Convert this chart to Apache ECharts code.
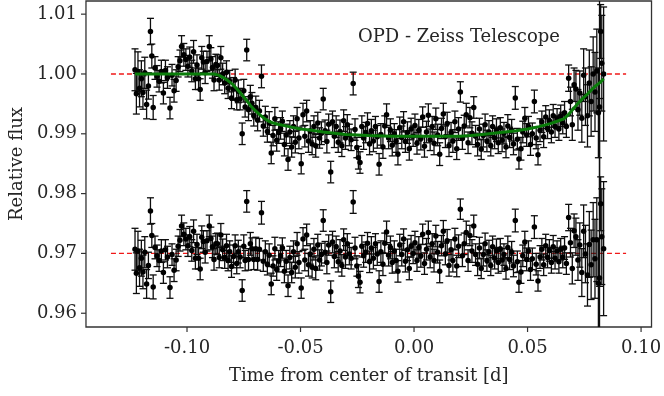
<!DOCTYPE html>
<html>
<head>
<meta charset="utf-8">
<script src="https://cdn.jsdelivr.net/npm/echarts@6/dist/echarts.min.js"></script>
<style>
  html, body { margin: 0; padding: 0; background: #fff; }
  #chart { width: 664px; height: 396px; }
</style>
</head>
<body>
<div id="chart"></div>
<script>
// observation times (days from mid-transit)
const times = [
  -0.1229, -0.1223, -0.1216, -0.1209, -0.1201, -0.1194, -0.1186, -0.1178, -0.1170, -0.1161,
  -0.1155, -0.1149, -0.1141, -0.1132, -0.1123, -0.1113, -0.1104, -0.1095, -0.1086, -0.1075,
  -0.1066, -0.1057, -0.1048, -0.1039, -0.1031, -0.1024, -0.1014, -0.1005, -0.0996, -0.0988,
  -0.0979, -0.0971, -0.0963, -0.0956, -0.0949, -0.0942, -0.0935, -0.0928, -0.0920, -0.0912,
  -0.0902, -0.0895, -0.0888, -0.0881, -0.0873,
  -0.0866, -0.0858, -0.0851, -0.0843, -0.0834, -0.0826, -0.0819, -0.0812, -0.0804, -0.0795,
  -0.0788, -0.0781, -0.0774, -0.0766, -0.0757, -0.0750, -0.0744, -0.0737, -0.0729, -0.0721,
  -0.0714, -0.0706, -0.0697, -0.0689, -0.0681, -0.0672, -0.0664, -0.0655, -0.0646, -0.0638,
  -0.0629, -0.0621, -0.0613, -0.0605, -0.0596,
  -0.0588, -0.0580, -0.0571, -0.0563, -0.0555, -0.0547, -0.0539, -0.0531, -0.0523, -0.0515,
  -0.0507, -0.0497, -0.0489, -0.0481, -0.0473, -0.0465, -0.0457, -0.0449, -0.0441, -0.0433,
  -0.0424, -0.0416, -0.0408, -0.0400, -0.0392, -0.0384, -0.0376, -0.0367, -0.0359, -0.0351,
  -0.0343, -0.0334, -0.0326, -0.0318, -0.0310, -0.0302, -0.0294, -0.0285, -0.0277, -0.0268,
  -0.0260, -0.0252, -0.0245, -0.0238, -0.0230, -0.0222, -0.0213, -0.0205, -0.0196, -0.0188,
  -0.0179, -0.0170, -0.0162, -0.0154, -0.0146, -0.0137, -0.0129, -0.0121, -0.0112, -0.0104,
  -0.0096, -0.0087, -0.0079, -0.0071, -0.0063, -0.0054, -0.0046, -0.0038, -0.0029, -0.0021,
  -0.0013, -0.0004, 0.0004, 0.0013, 0.0021, 0.0030, 0.0038, 0.0046, 0.0055, 0.0063,
  0.0071, 0.0080, 0.0088, 0.0096, 0.0104, 0.0113, 0.0121, 0.0129, 0.0138, 0.0146,
  0.0154, 0.0163, 0.0171, 0.0180, 0.0188, 0.0196, 0.0204, 0.0213, 0.0221, 0.0230,
  0.0238, 0.0246, 0.0255, 0.0263, 0.0271, 0.0280,
  0.0288, 0.0296, 0.0305, 0.0313, 0.0321, 0.0330, 0.0338, 0.0346, 0.0355, 0.0363,
  0.0371, 0.0380, 0.0388, 0.0396, 0.0405, 0.0413, 0.0421, 0.0430, 0.0438, 0.0446,
  0.0455, 0.0462, 0.0471, 0.0479, 0.0488, 0.0496, 0.0504, 0.0513, 0.0521, 0.0530,
  0.0538, 0.0546, 0.0555, 0.0563, 0.0571, 0.0580, 0.0588, 0.0596, 0.0605, 0.0613,
  0.0621, 0.0630, 0.0638, 0.0646, 0.0655, 0.0663, 0.0671, 0.0681, 0.0689, 0.0697,
  0.0705, 0.0713, 0.0722, 0.0730, 0.0739, 0.0747, 0.0755, 0.0764, 0.0772, 0.0780,
  0.0789, 0.0797, 0.0805, 0.0812, 0.0817, 0.0822, 0.0827, 0.0835
];

// relative flux (upper light curve)
const flux = [
  1.0007, 0.9967, 1.0004, 0.9976, 0.9992, 0.9969, 1.0002, 0.9949, 0.9980, 1.0071,
  1.0030, 0.9944, 1.0010, 0.9996, 0.9988, 1.0004, 0.9968, 1.0006, 0.9994, 0.9943,
  0.9998, 0.9972, 0.9989, 1.0012, 1.0022, 1.0046, 1.0032, 1.0024, 1.0013, 1.0028,
  1.0005, 1.0037, 0.9992, 1.0015, 0.9992, 0.9974, 1.0027, 1.0020, 1.0002, 1.0021,
  1.0046, 1.0025, 1.0011, 0.9990, 1.0016,
  1.0014, 0.9990, 1.0027, 1.0000, 0.9985, 1.0003, 0.9976, 0.9988, 0.9960, 0.9975,
  0.9990, 0.9957, 0.9971, 0.9958, 0.9900, 0.9972, 0.9945, 1.0040, 0.9940, 0.9962,
  0.9951, 0.9930, 0.9944, 0.9923, 0.9938, 0.9996, 0.9913, 0.9928, 0.9904, 0.9918,
  0.9868, 0.9897, 0.9925, 0.9889, 0.9902,
  0.9909, 0.9921, 0.9882, 0.9898, 0.9857, 0.9903, 0.9878, 0.9912, 0.9886, 0.9925,
  0.9893, 0.9850, 0.9932, 0.9896, 0.9938, 0.9888, 0.9905, 0.9883, 0.9912, 0.9880,
  0.9918, 0.9893, 0.9901, 0.9958, 0.9905, 0.9887, 0.9916, 0.9836, 0.9920, 0.9896,
  0.9912, 0.9886, 0.9904, 0.9880, 0.9922, 0.9893, 0.9915, 0.9898, 0.9890, 0.9984,
  0.9907, 0.9877, 0.9860, 0.9852, 0.9912, 0.9893, 0.9902, 0.9917, 0.9883, 0.9905,
  0.9888, 0.9912, 0.9895, 0.9849, 0.9899, 0.9878, 0.9913, 0.9932, 0.9893, 0.9906,
  0.9881, 0.9900, 0.9888, 0.9866, 0.9910, 0.9894, 0.9920, 0.9887, 0.9902, 0.9875,
  0.9908, 0.9896, 0.9914, 0.9884, 0.9906, 0.9892, 0.9928, 0.9879, 0.9903, 0.9931,
  0.9890, 0.9912, 0.9884, 0.9925, 0.9898, 0.9866, 0.9909, 0.9933, 0.9895, 0.9917,
  0.9880, 0.9902, 0.9888, 0.9920, 0.9875, 0.9908, 0.9970, 0.9892, 0.9913, 0.9932,
  0.9885, 0.9927, 0.9901, 0.9944, 0.9896, 0.9882,
  0.9908, 0.9874, 0.9897, 0.9915, 0.9888, 0.9903, 0.9880, 0.9912, 0.9893, 0.9906,
  0.9885, 0.9910, 0.9889, 0.9901, 0.9878, 0.9913, 0.9894, 0.9906, 0.9883, 0.9960,
  0.9891, 0.9858, 0.9875, 0.9903, 0.9926, 0.9898, 0.9912, 0.9882, 0.9900, 0.9954,
  0.9893, 0.9865, 0.9906, 0.9920, 0.9895, 0.9928, 0.9909, 0.9922, 0.9903, 0.9930,
  0.9912, 0.9925, 0.9908, 0.9930, 0.9918, 0.9935, 0.9912, 0.9993, 0.9954, 0.9915,
  0.9982, 0.9975, 0.9940, 0.9968, 0.9926, 0.9998, 0.9962, 0.9930, 0.9985, 0.9954,
  1.0000, 0.9970, 1.0005, 0.9935, 0.9945, 1.0071, 1.0018, 1.0000
];

// residuals, plotted with an offset at 0.97 (lower curve)
const resid = [
  0.9707, 0.9667, 0.9704, 0.9676, 0.9692, 0.9669, 0.9702, 0.9649, 0.9680, 0.9771,
  0.9730, 0.9644, 0.9710, 0.9696, 0.9688, 0.9704, 0.9668, 0.9706, 0.9694, 0.9643,
  0.9698, 0.9672, 0.9689, 0.9712, 0.9722, 0.9746, 0.9732, 0.9724, 0.9713, 0.9728,
  0.9705, 0.9737, 0.9692, 0.9715, 0.9692, 0.9674, 0.9727, 0.9720, 0.9702, 0.9721,
  0.9746, 0.9725, 0.9711, 0.9690, 0.9716,
  0.9716, 0.9693, 0.9731, 0.9706, 0.9693, 0.9713, 0.9688, 0.9703, 0.9678, 0.9695,
  0.9713, 0.9683, 0.9703, 0.9694, 0.9638, 0.9712, 0.9688, 0.9787, 0.9690, 0.9716,
  0.9708, 0.9690, 0.9708, 0.9690, 0.9707, 0.9768, 0.9687, 0.9703, 0.9682, 0.9697,
  0.9649, 0.9679, 0.9708, 0.9673, 0.9687,
  0.9696, 0.9709, 0.9670, 0.9687, 0.9646, 0.9693, 0.9668, 0.9703, 0.9677, 0.9716,
  0.9685, 0.9642, 0.9724, 0.9689, 0.9731, 0.9681, 0.9699, 0.9677, 0.9707, 0.9675,
  0.9714, 0.9689, 0.9698, 0.9755, 0.9702, 0.9685, 0.9714, 0.9636, 0.9719, 0.9695,
  0.9711, 0.9686, 0.9704, 0.9680, 0.9723, 0.9694, 0.9716, 0.9699, 0.9692, 0.9786,
  0.9709, 0.9679, 0.9662, 0.9652, 0.9712, 0.9696, 0.9702, 0.9717, 0.9686, 0.9709,
  0.9692, 0.9716, 0.9699, 0.9653, 0.9703, 0.9682, 0.9717, 0.9736, 0.9697, 0.9710,
  0.9685, 0.9704, 0.9688, 0.9670, 0.9714, 0.9698, 0.9724, 0.9687, 0.9706, 0.9675,
  0.9712, 0.9700, 0.9718, 0.9688, 0.9710, 0.9696, 0.9732, 0.9683, 0.9707, 0.9735,
  0.9694, 0.9716, 0.9688, 0.9729, 0.9702, 0.9670, 0.9713, 0.9737, 0.9699, 0.9721,
  0.9680, 0.9706, 0.9688, 0.9724, 0.9679, 0.9712, 0.9774, 0.9696, 0.9716, 0.9735,
  0.9688, 0.9730, 0.9704, 0.9746, 0.9698, 0.9682,
  0.9709, 0.9675, 0.9698, 0.9716, 0.9688, 0.9703, 0.9680, 0.9711, 0.9692, 0.9705,
  0.9685, 0.9708, 0.9689, 0.9698, 0.9675, 0.9710, 0.9690, 0.9702, 0.9679, 0.9755,
  0.9686, 0.9652, 0.9669, 0.9696, 0.9719, 0.9690, 0.9704, 0.9673, 0.9691, 0.9744,
  0.9682, 0.9654, 0.9694, 0.9707, 0.9681, 0.9713, 0.9693, 0.9705, 0.9685, 0.9711,
  0.9692, 0.9704, 0.9686, 0.9707, 0.9694, 0.9709, 0.9683, 0.9760, 0.9718, 0.9675,
  0.9738, 0.9728, 0.9689, 0.9714, 0.9668, 0.9737, 0.9699, 0.9664, 0.9715, 0.9681,
  0.9723, 0.9691, 0.9723, 0.9650, 0.9659, 0.9783, 0.9728, 0.9708
];

// 1-sigma uncertainties (same for both curves)
const errs = [
  0.0035, 0.0034, 0.0033, 0.0031, 0.0030, 0.0028, 0.0026, 0.0024, 0.0022, 0.0022,
  0.0020, 0.0020, 0.0019, 0.0018, 0.0018, 0.0019, 0.0018, 0.0017, 0.0018, 0.0018,
  0.0018, 0.0019, 0.0018, 0.0017, 0.0018, 0.0018, 0.0019, 0.0018, 0.0018, 0.0017,
  0.0018, 0.0019, 0.0018, 0.0017, 0.0018, 0.0018, 0.0019, 0.0018, 0.0018, 0.0017,
  0.0018, 0.0019, 0.0018, 0.0018, 0.0017,
  0.0018, 0.0017, 0.0019, 0.0018, 0.0018, 0.0019, 0.0017, 0.0018, 0.0018, 0.0019,
  0.0018, 0.0017, 0.0019, 0.0018, 0.0018, 0.0019, 0.0017, 0.0018, 0.0018, 0.0019,
  0.0018, 0.0017, 0.0019, 0.0018, 0.0018, 0.0019, 0.0017, 0.0018, 0.0018, 0.0019,
  0.0018, 0.0017, 0.0019, 0.0018, 0.0018,
  0.0018, 0.0017, 0.0019, 0.0018, 0.0018, 0.0019, 0.0017, 0.0018, 0.0018, 0.0019,
  0.0018, 0.0017, 0.0019, 0.0018, 0.0018, 0.0019, 0.0017, 0.0018, 0.0018, 0.0019,
  0.0018, 0.0017, 0.0019, 0.0018, 0.0018, 0.0019, 0.0017, 0.0018, 0.0018, 0.0019,
  0.0018, 0.0017, 0.0019, 0.0018, 0.0018, 0.0019, 0.0017, 0.0018, 0.0018, 0.0019,
  0.0018, 0.0017, 0.0019, 0.0018, 0.0018, 0.0019, 0.0017, 0.0018, 0.0018, 0.0019,
  0.0018, 0.0017, 0.0019, 0.0018, 0.0018, 0.0019, 0.0017, 0.0018, 0.0018, 0.0019,
  0.0018, 0.0017, 0.0019, 0.0018, 0.0018, 0.0019, 0.0017, 0.0018, 0.0018, 0.0019,
  0.0018, 0.0017, 0.0019, 0.0018, 0.0018, 0.0019, 0.0017, 0.0018, 0.0018, 0.0019,
  0.0018, 0.0017, 0.0019, 0.0018, 0.0018, 0.0019, 0.0017, 0.0018, 0.0018, 0.0019,
  0.0018, 0.0017, 0.0019, 0.0018, 0.0018, 0.0019, 0.0017, 0.0018, 0.0018, 0.0019,
  0.0018, 0.0017, 0.0019, 0.0018, 0.0018, 0.0019,
  0.0018, 0.0017, 0.0019, 0.0018, 0.0018, 0.0019, 0.0017, 0.0018, 0.0018, 0.0019,
  0.0018, 0.0017, 0.0019, 0.0018, 0.0018, 0.0019, 0.0017, 0.0018, 0.0018, 0.0019,
  0.0018, 0.0017, 0.0019, 0.0018, 0.0018, 0.0019, 0.0017, 0.0018, 0.0018, 0.0019,
  0.0018, 0.0017, 0.0019, 0.0018, 0.0018, 0.0019, 0.0017, 0.0018, 0.0018, 0.0019,
  0.0018, 0.0017, 0.0019, 0.0018, 0.0018, 0.0019, 0.0018, 0.0022, 0.0024, 0.0026,
  0.0028, 0.0031, 0.0034, 0.0037, 0.0040, 0.0044, 0.0048, 0.0052, 0.0055, 0.0058,
  0.0062, 0.0066, 0.0070, 0.0075, 0.0300, 0.0045, 0.0080, 0.0112
];

// fitted transit model (green curve)
const modelTimes = [
  -0.1229, -0.0950, -0.0880, -0.0860, -0.0840, -0.0820, -0.0800, -0.0780, -0.0760, -0.0740,
  -0.0720, -0.0700, -0.0680, -0.0660, -0.0640, -0.0620, -0.0600, -0.0550, -0.0500, -0.0450,
  -0.0400, -0.0350, -0.0300, -0.0250, -0.0200, -0.0100, 0.0000, 0.0100, 0.0200, 0.0250,
  0.0300, 0.0350, 0.0400, 0.0450, 0.0500, 0.0550, 0.0600, 0.0630, 0.0660, 0.0680,
  0.0700, 0.0720, 0.0740, 0.0760, 0.0780, 0.0800, 0.0820, 0.0835
];
const modelFlux = [
  1.0000, 1.0000, 1.0000, 0.9998, 0.9994, 0.9989, 0.9983, 0.9975, 0.9966, 0.9957,
  0.9947, 0.9939, 0.9932, 0.9926, 0.9921, 0.9918, 0.9916, 0.9912, 0.9908, 0.9906,
  0.9903, 0.9901, 0.9899, 0.9898, 0.9897, 0.9896, 0.9896, 0.9896, 0.9896, 0.9897,
  0.9899, 0.9901, 0.9903, 0.9905, 0.9908, 0.9912, 0.9917, 0.9921, 0.9925, 0.9932,
  0.9941, 0.9950, 0.9958, 0.9965, 0.9973, 0.9980, 0.9986, 0.9992
];

// reference levels (red dashed)
const refLevels = [1.00, 0.97];
const refSpan = [-0.1335, 0.0934];

// axis ranges and ticks
const xRange = [-0.1445, 0.1046];
const yRange = [0.9577, 1.0122];
const xTicks = [-0.10, -0.05, 0.00, 0.05, 0.10];
const yTicks = [0.96, 0.97, 0.98, 0.99, 1.00, 1.01];

const FONT = '"DejaVu Serif", serif';
const TEXT = '#262626';
const AXIS = '#333';

const n = Math.min(times.length, flux.length, resid.length, errs.length);
const upper = [], lower = [];
for (let i = 0; i < n; i++) {
  upper.push([times[i], flux[i], errs[i]]);
  lower.push([times[i], resid[i], errs[i]]);
}

function renderErrorBar(params, api) {
  const t = api.value(0), v = api.value(1), e = api.value(2);
  const cs = params.coordSys;
  const hi = api.coord([t, v + e]);
  const lo = api.coord([t, v - e]);
  const x = hi[0];
  const yTop = Math.max(hi[1], cs.y);
  const yBot = Math.min(lo[1], cs.y + cs.height);
  const style = { stroke: '#0d0d0d', lineWidth: 1.3 };
  const capW = 3.5;
  const children = [{ type: 'line', shape: { x1: x, y1: yTop, x2: x, y2: yBot }, style }];
  if (hi[1] >= cs.y) {
    children.push({ type: 'line', shape: { x1: x - capW, y1: hi[1], x2: x + capW, y2: hi[1] }, style });
  }
  if (lo[1] <= cs.y + cs.height) {
    children.push({ type: 'line', shape: { x1: x - capW, y1: lo[1], x2: x + capW, y2: lo[1] }, style });
  }
  return { type: 'group', children };
}

const chart = echarts.init(document.getElementById('chart'), null, { renderer: 'canvas' });

const refSeries = refLevels.map((lvl) => ({
  type: 'line',
  data: [[refSpan[0], lvl], [refSpan[1], lvl]],
  symbol: 'none',
  lineStyle: { color: '#f01818', width: 1.3, type: [5, 3] },
  z: 1,
  silent: true
}));

chart.setOption({
  animation: false,
  backgroundColor: '#fff',
  grid: {
    left: 80, right: 8, top: 1, bottom: 69,
    show: true, borderColor: AXIS, borderWidth: 1.3, backgroundColor: 'transparent'
  },
  xAxis: {
    type: 'value',
    min: xRange[0],
    max: xRange[1],
    axisLine: { show: false, onZero: false },
    splitLine: { show: false },
    axisTick: { show: false },
    axisLabel: {
      customValues: xTicks,
      formatter: (v) => v.toFixed(2),
      margin: 12,
      fontFamily: FONT, fontSize: 18, color: TEXT
    },
    name: 'Time from center of transit [d]',
    nameLocation: 'middle',
    nameGap: 40,
    nameTextStyle: { fontFamily: FONT, fontSize: 18, color: TEXT }
  },
  yAxis: {
    type: 'value',
    min: yRange[0],
    max: yRange[1],
    axisLine: { show: false, onZero: false },
    splitLine: { show: false },
    axisTick: { show: false },
    axisLabel: {
      customValues: yTicks,
      formatter: (v) => v.toFixed(2),
      margin: 9,
      fontFamily: FONT, fontSize: 18, color: TEXT
    },
    name: 'Relative flux',
    nameLocation: 'middle',
    nameGap: 53,
    nameTextStyle: { fontFamily: FONT, fontSize: 18, color: TEXT }
  },
  graphic: [{
    id: 'label',
    type: 'text',
    left: 358,
    top: 28,
    style: { text: 'OPD - Zeiss Telescope', font: '18px ' + FONT, fill: TEXT }
  }],
  series: [
    ...refSeries,
    { type: 'custom', data: upper, renderItem: renderErrorBar, z: 2, silent: true },
    { type: 'custom', data: lower, renderItem: renderErrorBar, z: 2, silent: true },
    { type: 'scatter', data: upper, symbolSize: 5.5, itemStyle: { color: '#000', opacity: 1 }, z: 3 },
    { type: 'scatter', data: lower, symbolSize: 5.5, itemStyle: { color: '#000', opacity: 1 }, z: 3 },
    {
      type: 'line',
      data: modelTimes.map((t, i) => [t, modelFlux[i]]),
      symbol: 'none',
      lineStyle: { color: '#0a7d0a', width: 3 },
      z: 4,
      silent: true
    }
  ]
});

// outward tick marks, positioned through the chart's own scales
const tickStyle = { stroke: AXIS, lineWidth: 1.2 };
const tickEls = [];
xTicks.forEach((v, i) => {
  const p = chart.convertToPixel({ gridIndex: 0 }, [v, yRange[0]]);
  tickEls.push({ id: 'xt' + i, type: 'line', silent: true, z: 10,
    shape: { x1: p[0], y1: p[1], x2: p[0], y2: p[1] + 5 }, style: tickStyle });
});
yTicks.forEach((v, i) => {
  const p = chart.convertToPixel({ gridIndex: 0 }, [xRange[0], v]);
  tickEls.push({ id: 'yt' + i, type: 'line', silent: true, z: 10,
    shape: { x1: p[0] - 5, y1: p[1], x2: p[0], y2: p[1] }, style: tickStyle });
});
chart.setOption({ graphic: tickEls });
</script>
</body>
</html>
